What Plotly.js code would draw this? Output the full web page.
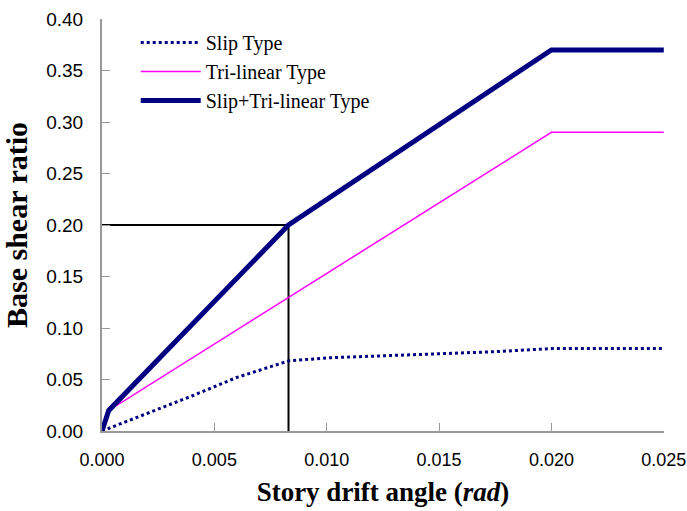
<!DOCTYPE html>
<html>
<head>
<meta charset="utf-8">
<script src="https://cdn.plot.ly/plotly-3.0.1.min.js"></script>
<style>html,body{margin:0;padding:0;background:#fff;}#chart{width:687px;height:511px;}</style>
</head>
<body>
<div id="chart"></div>
<script>
// Data
const slipX = [0, 0.002, 0.004, 0.006, 0.0083, 0.010, 0.0125, 0.015, 0.0175, 0.020, 0.025];
const slipY = [0, 0.017, 0.034, 0.052, 0.068, 0.071, 0.073, 0.075, 0.077, 0.080, 0.080];
const triX = [0, 0.0003, 0.020, 0.025];
const triY = [0, 0.020, 0.290, 0.290];
const combX = [0, 0.0003, 0.0083, 0.020, 0.025];
const combY = [0, 0.020, 0.200, 0.370, 0.370];
const guideX = [0, 0.0083, 0.0083];
const guideY = [0.200, 0.200, 0];
const xTicks = [0, 0.005, 0.010, 0.015, 0.020, 0.025];
const yTicks = [0, 0.05, 0.10, 0.15, 0.20, 0.25, 0.30, 0.35, 0.40];
const names = ['Slip Type', 'Tri-linear Type', 'Slip+Tri-linear Type'];

const traces = [
  {x: guideX, y: guideY, mode: 'lines', line: {color: '#000000', width: 2}, showlegend: false, hoverinfo: 'skip'},
  {x: slipX, y: slipY, mode: 'lines', name: names[0], line: {color: '#000080', width: 3, dash: 'dot'}},
  {x: triX, y: triY, mode: 'lines', name: names[1], line: {color: '#FF00FF', width: 1.5}},
  {x: combX, y: combY, mode: 'lines', name: names[2], line: {color: '#000080', width: 5}}
];

const sans = 'Liberation Sans, Arial';
const serif = 'Liberation Serif, Times New Roman, serif';
const layout = {
  width: 687, height: 511,
  margin: {l: 102, r: 23, t: 19, b: 80},
  paper_bgcolor: '#fff', plot_bgcolor: '#fff',
  showlegend: true,
  legend: {x: 0.06, y: 0.99, xanchor: 'left', yanchor: 'top', bgcolor: 'rgba(0,0,0,0)',
           itemwidth: 60, font: {family: serif, size: 20, color: '#000'}},
  xaxis: {range: [0, 0.02501], tickvals: xTicks, tickformat: '.3f', ticks: 'inside', ticklen: 8, tickcolor: '#999',
          showline: true, linecolor: '#999', linewidth: 2, showgrid: false, zeroline: false,
          tickfont: {family: sans, size: 18, color: '#000'},
          ticklabelstandoff: 11, ticklabeloverflow: 'allow',
          title: {text: '<b>Story drift angle (<i>rad</i>)</b>', standoff: 14,
                  font: {family: serif, size: 27, color: '#000'}}},
  yaxis: {range: [0, 0.40], tickvals: yTicks, tickformat: '.2f', ticks: 'inside', ticklen: 8, tickcolor: '#999',
          showline: true, linecolor: '#999', linewidth: 2, showgrid: false, zeroline: false,
          tickfont: {family: sans, size: 19, color: '#000'},
          ticklabelstandoff: 13,
          title: {text: '<b>Base shear ratio</b>', standoff: 11,
                  font: {family: serif, size: 30, color: '#000'}}}
};
Plotly.newPlot('chart', traces, layout, {displayModeBar: false, staticPlot: true});
</script>
</body>
</html>
